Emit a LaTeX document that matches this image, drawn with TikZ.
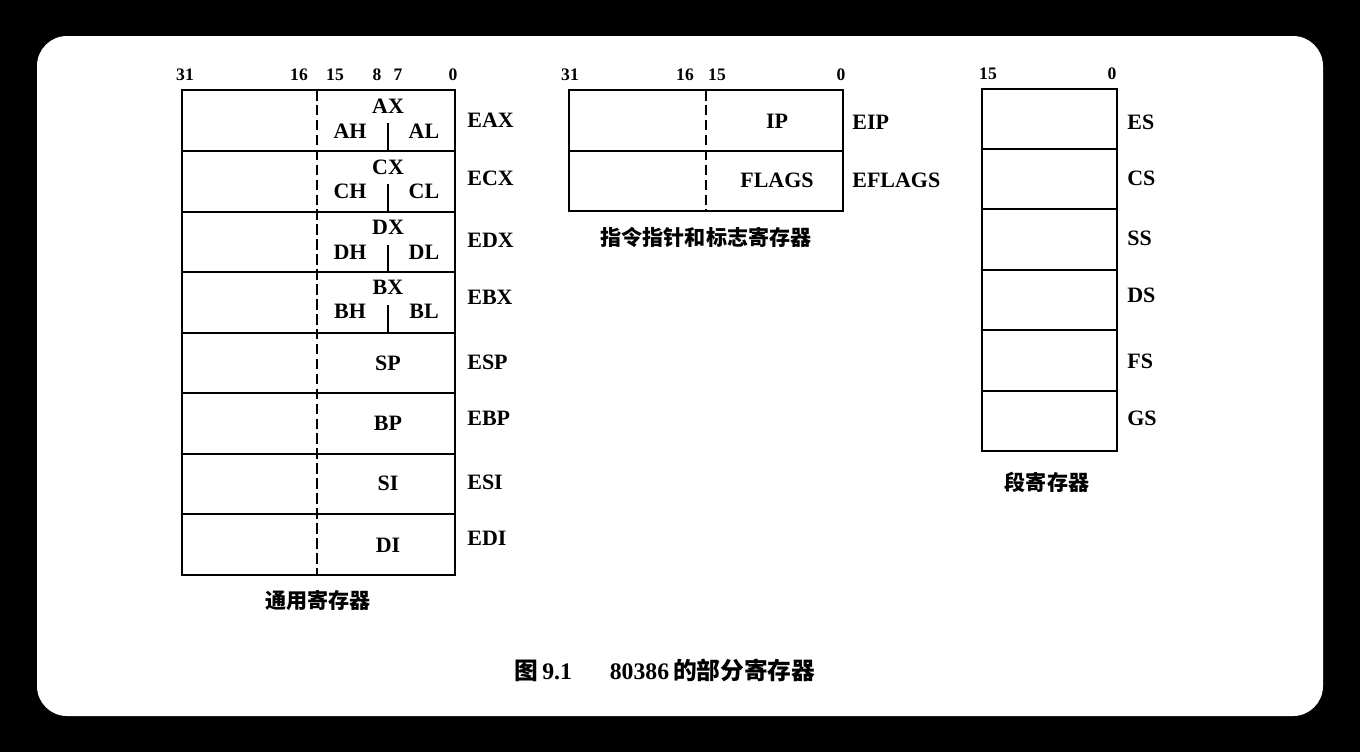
\documentclass[tikz,border=0pt]{standalone}
\usepackage{fontspec}
\setmainfont{Liberation Serif}
\newfontfamily\cjk{Noto Sans CJK SC}
\tikzset{
  % register boxes
  reg/.style={draw=black,line width=1.3pt},
  half/.style={draw=black,line width=1.1pt,dash pattern=on 6pt off 2.5pt},
  split/.style={draw=black,line width=1.2pt},
  bitno/.style={font=\fontsize{10}{11}\selectfont\bfseries,inner sep=0pt},
  rname/.style={font=\fontsize{12.5}{13}\selectfont\bfseries,inner sep=0pt},
  rlab/.style={rname,anchor=west},
  capt/.style={font=\fontsize{12}{13}\selectfont\cjk\bfseries,inner sep=0pt},
}
\begin{document}
\begin{tikzpicture}[x=0.02cm,y=-0.02cm]
\useasboundingbox (0,0) rectangle (1360,752);
\fill[black] (0,0) rectangle (1360,752);
\fill[white,rounded corners=0.6cm] (37,36) rectangle (1323,716);
% general registers
  \node[bitno] (g31) at (185,75) {31};
  \node[bitno] (g16) at (299,75) {16};
  \node[bitno] (g15) at (335,75) {15};
  \node[bitno] (g8) at (377,75) {8};
  \node[bitno] (g7) at (398,75) {7};
  \node[bitno] (g0) at (453,75) {0};
  \draw[reg] (182,90) rectangle (455,575);
  \draw[reg] (182,151) -- (455,151);
  \draw[reg] (182,212) -- (455,212);
  \draw[reg] (182,272) -- (455,272);
  \draw[reg] (182,333) -- (455,333);
  \draw[reg] (182,393) -- (455,393);
  \draw[reg] (182,454) -- (455,454);
  \draw[reg] (182,514) -- (455,514);
  \draw[half] (317,90) -- (317,575);
  \node[rname] (ax) at (388,106) {AX};
  \node[rname] (ah) at (350,131) {AH};
  \node[rname] (al) at (424,131) {AL};
  \draw[split] (388,123) -- (388,151);
  \node[rname] (cx) at (388,167) {CX};
  \node[rname] (ch) at (350,191) {CH};
  \node[rname] (cl) at (424,191) {CL};
  \draw[split] (388,184) -- (388,212);
  \node[rname] (dx) at (388,227) {DX};
  \node[rname] (dh) at (350,252) {DH};
  \node[rname] (dl) at (424,252) {DL};
  \draw[split] (388,245) -- (388,272);
  \node[rname] (bx) at (388,287) {BX};
  \node[rname] (bh) at (350,311) {BH};
  \node[rname] (bl) at (424,311) {BL};
  \draw[split] (388,305) -- (388,333);
  \node[rname] (sp) at (388,363) {SP};
  \node[rname] (bp) at (388,423) {BP};
  \node[rname] (si) at (388,483) {SI};
  \node[rname] (di) at (388,545) {DI};
  \node[rlab] (eax) at (467,120) {EAX};
  \node[rlab] (ecx) at (467,178) {ECX};
  \node[rlab] (edx) at (467,240) {EDX};
  \node[rlab] (ebx) at (467,297) {EBX};
  \node[rlab] (esp) at (467,362) {ESP};
  \node[rlab] (ebp) at (467,418) {EBP};
  \node[rlab] (esi) at (467,482) {ESI};
  \node[rlab] (edi) at (467,538) {EDI};
  \node[capt] (gpcap) at (318,600) {通用寄存器};
% pointer and flags
  \node[bitno] (p31) at (570,75) {31};
  \node[bitno] (p16) at (685,75) {16};
  \node[bitno] (p15) at (717,75) {15};
  \node[bitno] (p0) at (841,75) {0};
  \draw[reg] (569,90) rectangle (843,211);
  \draw[reg] (569,151) -- (843,151);
  \draw[half] (706,90) -- (706,211);
  \node[rname] (ip) at (777,121) {IP};
  \node[rname] (flags) at (777,180) {FLAGS};
  \node[rlab] (eip) at (852,122) {EIP};
  \node[rlab] (eflags) at (852,180) {EFLAGS};
  \node[capt] (ipcap) at (706,237) {指令指针和标志寄存器};
% segment registers
  \node[bitno] (s15) at (988,74) {15};
  \node[bitno] (s0) at (1112,74) {0};
  \draw[reg] (982,89) rectangle (1117,451);
  \draw[reg] (982,149) -- (1117,149);
  \draw[reg] (982,209) -- (1117,209);
  \draw[reg] (982,270) -- (1117,270);
  \draw[reg] (982,330) -- (1117,330);
  \draw[reg] (982,391) -- (1117,391);
  \node[rlab] (es) at (1127,122) {ES};
  \node[rlab] (cs) at (1127,178) {CS};
  \node[rlab] (ss) at (1127,238) {SS};
  \node[rlab] (ds) at (1127,295) {DS};
  \node[rlab] (fs) at (1127,361) {FS};
  \node[rlab] (gs) at (1127,418) {GS};
  \node[capt] (sgcap) at (1047,482) {段寄存器};
% figure caption
  \node[font=\fontsize{13.5}{15}\selectfont\bfseries,inner sep=0pt] (fig) at (665,670)
    {{\cjk 图}\,9.1\hspace{1.6em}80386\,{\cjk 的部分寄存器}};
\end{tikzpicture}
\end{document}
